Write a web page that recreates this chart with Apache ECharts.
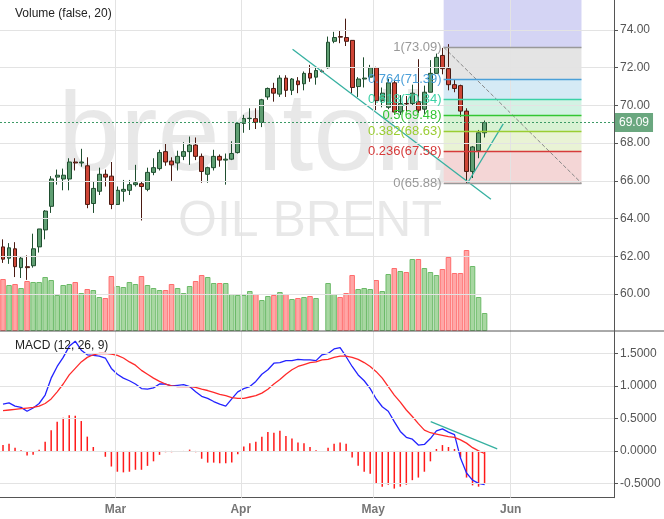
<!DOCTYPE html>
<html><head><meta charset="utf-8">
<script src="https://cdn.jsdelivr.net/npm/echarts@6/dist/echarts.min.js"></script>
<style>html,body{margin:0;padding:0;background:#fff}#c{width:664px;height:519px}</style>
</head><body><div id="c"></div>
<script>
const slotCount = 102;
const categories = Array.from({length: slotCount}, (_, i) => 'd' + i);
const openP  = [62.5,61.9,62.4,61.4,61.45,61.5,62.5,63.4,64.65,66.2,66.1,66.1,67.0,66.95,66.8,64.8,65.45,66.35,66.25,64.75,65.45,65.5,65.8,65.85,65.55,66.45,66.65,67.55,67.05,66.95,67.3,67.55,67.9,67.3,66.35,66.7,67.3,67.1,67.15,67.5,69.05,69.3,69.3,69.1,70.45,70.9,70.6,71.45,70.8,71.3,71.15,71.7,71.5,71.82,72.0,73.4,73.65,73.6,73.45,71.0,71.4,71.5,72.0,70.25,69.9,71.2,69.65,70.1,70.1,70.2,69.8,70.7,71.7,72.65,71.95,71.1,71.05,69.7,66.5,67.6,68.55];
const closeP = [61.85,62.45,61.45,61.9,61.4,62.4,63.45,64.4,66.1,66.3,66.3,67.0,66.95,67.0,64.75,65.6,66.35,66.2,64.75,65.5,65.55,65.8,65.9,65.7,66.45,66.7,67.5,67.0,66.85,67.3,67.55,67.9,67.3,66.5,66.7,67.3,67.1,67.15,67.45,69.05,69.3,69.32,69.1,70.3,70.9,70.65,71.45,70.8,71.4,71.1,71.7,71.45,71.85,71.8,73.35,73.6,73.62,73.4,70.95,71.4,71.45,72.0,70.25,70.65,71.2,69.65,70.1,70.08,70.65,69.75,70.7,71.7,72.55,71.95,71.1,70.9,69.7,66.5,67.8,68.55,69.09];
const lowP   = [61.65,61.6,60.9,60.85,60.75,61.4,62.2,62.9,64.3,65.8,65.5,65.5,66.55,66.75,64.55,64.3,65.25,65.7,64.5,64.75,64.9,65.25,65.7,63.9,65.45,66.3,66.55,66.8,66.0,66.55,67.1,66.85,67.1,65.9,65.9,66.55,66.75,65.8,67.1,67.45,68.55,68.7,68.75,68.85,70.3,70.2,70.45,70.45,70.55,70.65,70.8,71.25,71.1,71.75,71.95,73.3,73.3,73.15,70.65,70.45,70.95,71.35,69.75,69.9,69.8,69.5,69.5,69.7,70.0,69.6,69.55,70.7,71.7,71.65,70.8,70.7,69.4,65.88,66.15,67.2,68.3];
const highP  = [62.9,62.7,62.75,62.0,62.05,63.2,63.45,64.45,66.25,66.6,66.65,67.2,67.2,67.7,67.25,65.95,66.7,66.6,67.0,65.7,66.05,66.05,66.85,65.95,66.7,67.2,67.65,68.0,67.25,67.6,68.05,68.35,68.3,67.45,66.75,67.65,67.4,67.45,68.1,69.1,69.5,69.85,69.85,70.35,70.95,71.2,71.6,71.6,71.45,71.5,71.8,72.15,72.05,71.9,73.65,73.9,73.95,74.6,73.45,71.5,72.55,72.15,72.05,70.95,71.4,71.35,70.55,70.5,71.1,72.45,71.05,72.4,72.75,73.05,73.25,71.35,71.1,69.85,67.85,68.7,69.2];
const volume = [52,46,47,43,50,49,49,54,51,36,46,47,49,38,42,41,34,33,55,45,44,49,47,55,46,43,41,41,47,43,38,45,50,56,54,48,48,48,37,36,36,40,37,31,35,36,39,37,32,33,34,35,33,null,48,37,34,38,56,42,43,42,51,40,57,63,60,59,72,72,63,59,56,62,74,58,58,81,65,34,18];
const macdLine = [0.72,0.74,0.69,0.67,0.61,0.66,0.73,0.86,1.12,1.30,1.44,1.61,1.69,1.55,1.48,1.47,1.46,1.43,1.27,1.18,1.12,1.08,1.03,0.96,0.95,0.97,1.03,1.03,1.00,1.01,1.02,0.99,0.91,0.84,0.81,0.76,0.72,0.69,0.80,0.91,0.96,0.99,1.07,1.18,1.25,1.35,1.36,1.39,1.39,1.41,1.40,1.40,1.39,1.48,1.50,1.57,1.59,1.45,1.30,1.17,1.08,0.96,0.80,0.68,0.61,0.45,0.30,0.21,0.18,0.09,0.10,0.19,0.31,0.34,0.29,0.25,-0.11,-0.34,-0.45,-0.50,-0.52];
const signalLine = [0.62,0.63,0.64,0.65,0.66,0.67,0.69,0.73,0.80,0.91,1.03,1.17,1.27,1.37,1.44,1.48,1.50,1.50,1.49,1.47,1.43,1.37,1.32,1.24,1.18,1.12,1.07,1.03,1.00,0.99,0.99,0.99,0.98,0.95,0.93,0.90,0.87,0.85,0.82,0.81,0.81,0.83,0.85,0.89,0.95,1.03,1.10,1.18,1.25,1.30,1.33,1.36,1.37,1.40,1.41,1.44,1.46,1.46,1.44,1.41,1.36,1.30,1.22,1.12,0.99,0.86,0.75,0.63,0.53,0.42,0.32,0.28,0.26,0.24,0.22,0.21,0.17,0.12,0.05,0.0,-0.04];
const histogram = [0.09,0.11,0.05,0.01,-0.07,-0.06,0.02,0.14,0.32,0.45,0.51,0.55,0.54,0.46,0.22,0.06,0,-0.09,-0.24,-0.32,-0.33,-0.32,-0.29,-0.29,-0.23,-0.16,-0.06,-0.02,-0.02,0,-0.01,0.02,-0.02,-0.12,-0.18,-0.18,-0.19,-0.19,-0.18,-0.05,0.07,0.12,0.14,0.22,0.29,0.28,0.31,0.23,0.19,0.13,0.12,0.06,0.01,0,0.05,0.11,0.13,0.11,-0.10,-0.23,-0.32,-0.35,-0.51,-0.55,-0.52,-0.58,-0.55,-0.52,-0.45,-0.41,-0.32,-0.16,0.03,0.09,0.06,0.03,-0.10,-0.41,-0.53,-0.55,-0.51];
const priceTicks = [60,62,64,66,68,70,72,74];
const macdTicks = [-0.5,0,0.5,1,1.5];
const months = [['Mar',18.67],['Apr',39.5],['May',61.5],['Jun',84.33]];
const lastPrice = 69.09;
const trendA = [[48.1,72.98],[81.05,65.02]];
const trendB = [[77.2,65.9],[83.1,69.02]];
const macdTrend = [[71.05,0.45],[82.1,0.03]];
const fibStart = 73.2, fibEnd = 96.1;
const fibLevels = [['1',73.09,'#999999'],['0.764',71.39,'#4a9fd8'],['0.618',70.34,'#3ad1a6'],['0.5',69.48,'#33c633'],['0.382',68.63,'#9acd32'],['0.236',67.58,'#d63a3a'],['0',65.88,'#999999']];
const fibFills = ['#e4e4e4','#d5eaf5','#d3f2e4','#d8f2d3','#e9f3d5','#f4d6d6'];

const P_MIN=58.04,P_MAX=75.59,M_MIN=-0.72,M_MAX=1.846,XMIN=-0.5,XMAX=slotCount-0.5;
const chart = echarts.init(document.getElementById('c'));
const up = closeP.map((c,i)=>c>=openP[i]);
const gridLine = {color:'#e3e3e3',width:1,type:'solid'};
function hLines(ticks){return ticks.map(t=>[{coord:[XMIN,t]},{coord:[XMAX,t]}]);}
function vLines(lo,hi,withLabel){return months.map(m=>[{coord:[m[1],lo],label:{show:withLabel,formatter:m[0]}},{coord:[m[1],hi]}]);}
const fibAreas = [[{coord:[fibStart,P_MAX],itemStyle:{color:'#d4d4f4'}},{coord:[fibEnd,fibLevels[0][1]]}]];
for(let k=0;k<fibFills.length;k++){fibAreas.push([{coord:[fibStart,fibLevels[k][1]],itemStyle:{color:fibFills[k]}},{coord:[fibEnd,fibLevels[k+1][1]]}]);}
const fibMarks = fibLevels.map(f=>[{coord:[fibStart,f[1]],lineStyle:{color:f[2],width:1.3,type:'solid'},label:{show:true,position:'start',formatter:f[0]+'('+f[1].toFixed(2)+')',color:f[2],fontSize:13,distance:2}},{coord:[fibEnd,f[1]]}]);

chart.setOption({
  animation:false,
  textStyle:{fontFamily:'Liberation Sans, Arial, sans-serif'},
  grid:[{left:0,right:50,top:0,height:331},{left:0,right:50,top:331,height:166.7}],
  xAxis:[
    {type:'category',gridIndex:0,data:categories,axisLine:{show:false},axisTick:{show:false},axisLabel:{show:false},splitLine:{show:false}},
    {type:'category',gridIndex:1,data:categories,axisLine:{show:true,onZero:false,lineStyle:{color:'#555'}},axisTick:{show:false},axisLabel:{show:false},splitLine:{show:false}},
    {type:'value',gridIndex:0,min:XMIN,max:XMAX,show:false},
    {type:'value',gridIndex:1,min:XMIN,max:XMAX,show:false}
  ],
  yAxis:[
    {type:'value',gridIndex:0,position:'right',min:P_MIN,max:P_MAX,splitLine:{show:false},axisLine:{show:true,onZero:false,lineStyle:{color:'#555'}},
     axisTick:{show:true,length:4,customValues:priceTicks,lineStyle:{color:'#555'}},
     axisLabel:{customValues:priceTicks,formatter:v=>v.toFixed(2),color:'#555',fontSize:12,margin:6}},
    {type:'value',gridIndex:0,min:0,max:331,show:false,axisLine:{onZero:false}},
    {type:'value',gridIndex:1,position:'right',min:M_MIN,max:M_MAX,splitLine:{show:false},axisLine:{show:true,onZero:false,lineStyle:{color:'#555'}},
     axisTick:{show:true,length:4,customValues:macdTicks,lineStyle:{color:'#555'}},
     axisLabel:{customValues:macdTicks,formatter:v=>v.toFixed(4),color:'#555',fontSize:12,margin:6}}
  ],
  graphic:[
    {type:'text',z:0,style:{text:'brentoil, D',x:58,y:139,verticalAlign:'middle',font:'112px "Liberation Sans"',fill:'rgba(0,0,0,0.09)'}},
    {type:'text',z:0,style:{text:'OIL BRENT',x:178,y:222,verticalAlign:'middle',font:'50px "Liberation Sans"',fill:'rgba(0,0,0,0.09)'}},
    {type:'text',z:100,style:{text:'Volume (false, 20)',x:15,y:14,verticalAlign:'middle',font:'12px "Liberation Sans"',fill:'#222'}},
    {type:'text',z:100,style:{text:'MACD (12, 26, 9)',x:15,y:346,verticalAlign:'middle',font:'12px "Liberation Sans"',fill:'#222'}},
    {type:'line',z:100,shape:{x1:0,y1:331,x2:664,y2:331},style:{stroke:'#555',lineWidth:1}}
  ],
  series:[
    {type:'line',xAxisIndex:2,yAxisIndex:0,data:[],z:0,silent:true,
     markLine:{silent:true,symbol:'none',lineStyle:gridLine,label:{show:false},data:hLines(priceTicks).concat(vLines(P_MIN,P_MAX,false))}},
    {type:'line',xAxisIndex:3,yAxisIndex:2,data:[],z:0,silent:true,
     markLine:{silent:true,symbol:'none',lineStyle:gridLine,label:{show:true,position:'start',distance:6,color:'#777',fontWeight:'bold',fontSize:12},data:hLines(macdTicks).concat(vLines(M_MIN,M_MAX,true))}},
    {type:'line',xAxisIndex:2,yAxisIndex:0,z:1,silent:true,symbol:'none',
     data:[[fibStart,fibLevels[0][1]],[fibEnd,fibLevels[6][1]]],lineStyle:{color:'#888',type:'dashed',width:1},
     markArea:{silent:true,data:fibAreas},
     markLine:{silent:true,symbol:'none',data:fibMarks}},
    {type:'bar',xAxisIndex:0,yAxisIndex:1,z:2,barCategoryGap:'8%',
     data:volume.map((v,i)=>({value:v,itemStyle:{color:up[i]?'#a7d7a1':'#ffa6a6',borderColor:up[i]?'#6cba68':'#ff6d6d',borderWidth:1}}))},
    {type:'candlestick',xAxisIndex:0,yAxisIndex:0,z:3,barWidth:'72%',
     data:openP.map((o,i)=>[o,closeP[i],lowP[i],highP[i]]),
     itemStyle:{color:'#5f9e72',color0:'#cf4536',borderColor:'#1f4e2f',borderColor0:'#4a1a12',borderWidth:1},
     markLine:{silent:true,symbol:'none',data:[{yAxis:lastPrice}],lineStyle:{color:'#3d9a66',type:[2,2],width:1},
       label:{show:true,position:'end',formatter:lastPrice.toFixed(2),color:'#fff',backgroundColor:'#6aa77f',padding:[4,4,3,4],fontSize:12,distance:1}}},
    {type:'line',xAxisIndex:2,yAxisIndex:0,z:4,symbol:'none',data:trendA,lineStyle:{color:'#35b0a0',width:1.3}},
    {type:'line',xAxisIndex:2,yAxisIndex:0,z:4,symbol:'none',data:trendB,lineStyle:{color:'#35b0a0',width:1.3}},
    {type:'bar',xAxisIndex:1,yAxisIndex:2,z:2,barWidth:1.5,data:histogram,itemStyle:{color:'#ff1a1a'}},
    {type:'line',xAxisIndex:1,yAxisIndex:2,z:3,symbol:'none',data:macdLine,lineStyle:{color:'#2323ff',width:1.3}},
    {type:'line',xAxisIndex:1,yAxisIndex:2,z:3,symbol:'none',data:signalLine,lineStyle:{color:'#ff2a2a',width:1.3}},
    {type:'line',xAxisIndex:3,yAxisIndex:2,z:4,symbol:'none',data:macdTrend,lineStyle:{color:'#35b0a0',width:1.3}}
  ]
});
</script></body></html>
